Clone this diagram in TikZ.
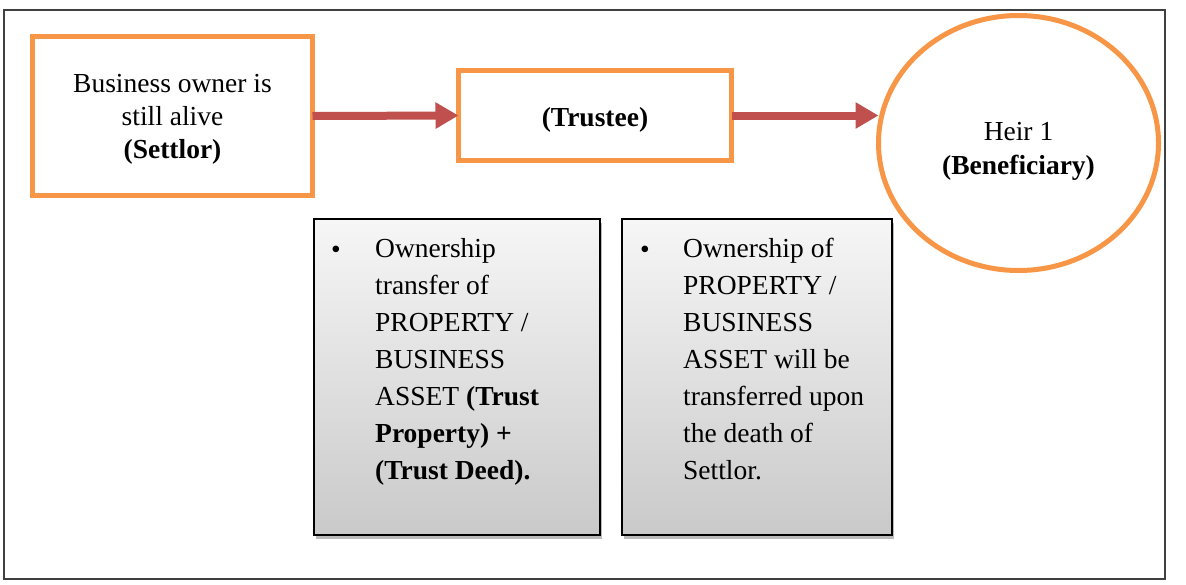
\documentclass[tikz,border=0pt]{standalone}
\usepackage{fontspec}
\setmainfont{Liberation Serif}
\usetikzlibrary{arrows.meta,shapes.geometric,shadows}
\definecolor{orangeline}{HTML}{F79646}
\definecolor{redarrow}{HTML}{C0504D}
\tikzset{
  mainbox/.style={draw=orangeline, line width=5pt, rectangle, outer sep=0pt, inner sep=0pt},
  heir/.style={draw=orangeline, line width=5pt, ellipse, outer sep=0pt, inner sep=0pt},
  boxtext/.style={align=center, inner sep=0pt, font=\fontsize{27.5}{34}\selectfont},
  flow/.style={draw=redarrow, line width=8pt, -{Triangle[length=23pt,width=25pt]}},
  notebox/.style={draw=black, line width=1.6pt, rectangle, outer sep=0pt, inner sep=0pt, top color=gray!7, bottom color=gray!42, drop shadow={shadow xshift=2pt, shadow yshift=-4pt, fill=black!60, opacity=0.45}},
  notetext/.style={anchor=north west, align=left, inner sep=0pt, font=\fontsize{27.5}{37}\selectfont},
  bulletmark/.style={anchor=base west, inner sep=0pt, font=\fontsize{27.5}{37}\selectfont},
  frame/.style={draw=black!75, line width=1.5pt}
}
\begin{document}
\begin{tikzpicture}[x=1pt,y=-1pt]
\useasboundingbox (0,0) rectangle (1186,584);
\draw[frame] (4,10) rectangle (1165,579);

\node[mainbox, minimum width=280pt, minimum height=159pt] (settlor) at (172.5,116) {};
\node[boxtext, font=\fontsize{27.5}{33}\selectfont] (settlortext) at (172.5,119) {Business owner is\\still alive\\\textbf{(Settlor)}};
\node[mainbox, minimum width=273pt, minimum height=90pt] (trustee) at (595,115.5) {};
\node[boxtext] (trusteetext) at (595,120) {\textbf{(Trustee)}};
\node[heir, minimum width=280pt, minimum height=255pt] (benef) at (1018.5,143) {};
\node[boxtext] (beneftext) at (1018.5,151) {Heir 1\\\textbf{(Beneficiary)}};

\draw[flow] (settlor.east) -- (trustee.west);
\draw[flow] (trustee.east) -- (benef.west |- trustee.east);

\node[notebox, minimum width=286pt, minimum height=316pt] (noteA) at (457,377) {};
\node[notebox, minimum width=270pt, minimum height=316pt] (noteB) at (757,377) {};

\node[notetext] (txtA) at (375,238) {Ownership\\transfer of\\PROPERTY /\\BUSINESS\\ASSET \textbf{(Trust}\\\textbf{Property) +}\\\textbf{(Trust Deed).}};
\node[bulletmark] (bulA) at (331,258) {\textbullet};
\node[notetext] (txtB) at (683,238) {Ownership of\\PROPERTY /\\BUSINESS\\ASSET will be\\transferred upon\\the death of\\Settlor.};
\node[bulletmark] (bulB) at (640,258) {\textbullet};
\end{tikzpicture}
\end{document}
